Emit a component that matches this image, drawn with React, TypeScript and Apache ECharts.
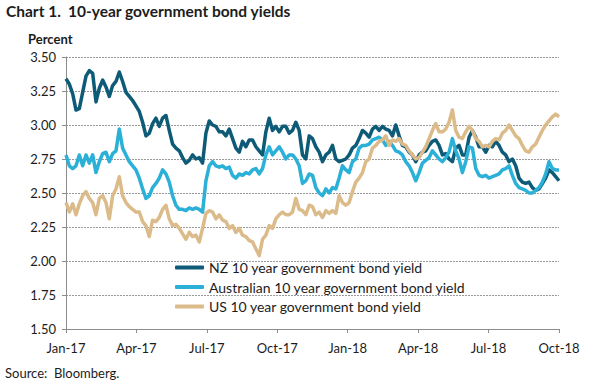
import React, { useEffect, useRef } from "react";
import * as echarts from "echarts";

// x positions: sample index * STEP months from Jan-17 (approx. every 4.3 days)
const STEP_MONTHS = 21 / 148;
const xTickLabels = ["Jan-17", "Apr-17", "Jul-17", "Oct-17", "Jan-18", "Apr-18", "Jul-18", "Oct-18"];
const seriesNames = [
  "NZ 10 year government bond yield",
  "Australian 10 year government bond yield",
  "US 10 year government bond yield",
];

const nzYield = [
  3.34, 3.30, 3.23, 3.11, 3.12, 3.24, 3.36, 3.40, 3.38, 3.17,
  3.27, 3.33, 3.28, 3.21, 3.29, 3.32, 3.39, 3.32, 3.24, 3.21,
  3.18, 3.14, 3.10, 3.02, 2.92, 2.94, 3.01, 3.05, 2.99, 3.05,
  3.07, 2.96, 2.86, 2.83, 2.81, 2.76, 2.72, 2.74, 2.78, 2.75,
  2.76, 2.72, 2.94, 3.03, 3.00, 2.99, 2.95, 2.95, 2.92, 2.97,
  2.90, 2.83, 2.80, 2.88, 2.84, 2.89, 2.89, 2.84, 2.81, 2.78,
  2.95, 3.05, 2.96, 2.99, 2.95, 2.99, 2.99, 2.94, 2.96, 3.02,
  2.96, 2.78, 2.75, 2.92,
  2.90, 2.84, 2.80, 2.73, 2.78, 2.80, 2.85, 2.75, 2.73, 2.74,
  2.75, 2.78, 2.83, 2.85, 2.90, 2.96, 2.94, 2.91, 2.97, 2.99,
  2.96, 2.99, 2.97, 2.96, 2.92, 3.00, 2.92, 2.85, 2.84, 2.80,
  2.78, 2.73, 2.78, 2.80, 2.81, 2.85, 2.88, 2.89, 2.85, 2.78,
  2.79, 2.75, 2.73, 2.83, 2.85, 2.78, 2.78, 2.91, 2.96, 2.91,
  2.84, 2.84, 2.80, 2.85, 2.84, 2.88, 2.85, 2.80, 2.78, 2.73,
  2.75, 2.70, 2.61, 2.58, 2.57, 2.58, 2.54, 2.52, 2.53, 2.57,
  2.61, 2.67, 2.65, 2.62, 2.59,
];

const auYield = [
  2.78, 2.70, 2.68, 2.70, 2.78, 2.70, 2.78, 2.72, 2.78, 2.65,
  2.73, 2.79, 2.80, 2.73, 2.79, 2.81, 2.97, 2.83, 2.78, 2.73,
  2.70, 2.67, 2.61, 2.53, 2.46, 2.48, 2.54, 2.57, 2.61, 2.67,
  2.64, 2.58, 2.48, 2.41, 2.38, 2.38, 2.37, 2.39, 2.38, 2.39,
  2.38, 2.36, 2.59, 2.70, 2.73, 2.70, 2.69, 2.70, 2.68, 2.69,
  2.63, 2.61, 2.64, 2.63, 2.65, 2.64, 2.67, 2.68, 2.64, 2.68,
  2.78, 2.84, 2.78, 2.81, 2.84, 2.80, 2.75, 2.78, 2.78, 2.75,
  2.70, 2.57, 2.59, 2.64,
  2.63, 2.54, 2.50, 2.48, 2.53, 2.50, 2.54, 2.53, 2.61, 2.70,
  2.67, 2.65, 2.73, 2.75, 2.83, 2.85, 2.85, 2.86, 2.89, 2.90,
  2.91, 2.89, 2.85, 2.88, 2.85, 2.81, 2.80, 2.78, 2.73, 2.70,
  2.65, 2.59, 2.65, 2.72, 2.74, 2.76, 2.81, 2.78, 2.75, 2.73,
  2.76, 2.80, 2.90, 2.81, 2.75, 2.65, 2.73, 2.84, 2.83, 2.68,
  2.63, 2.62, 2.63, 2.61, 2.62, 2.63, 2.64, 2.67, 2.68, 2.70,
  2.63, 2.57, 2.54, 2.53, 2.52, 2.50, 2.50, 2.52, 2.54, 2.58,
  2.64, 2.73, 2.68, 2.67, 2.67,
];

const usYield = [
  2.43, 2.36, 2.42, 2.34, 2.42, 2.48, 2.51, 2.46, 2.43, 2.34,
  2.46, 2.48, 2.43, 2.31, 2.48, 2.53, 2.62, 2.48, 2.43, 2.40,
  2.38, 2.36, 2.36, 2.29, 2.26, 2.18, 2.30, 2.29, 2.32, 2.38,
  2.41, 2.31, 2.26, 2.27, 2.24, 2.20, 2.16, 2.21, 2.18, 2.19,
  2.14, 2.24, 2.35, 2.37, 2.36, 2.31, 2.34, 2.30, 2.29, 2.24,
  2.26, 2.21, 2.24, 2.19, 2.18, 2.15, 2.14, 2.09, 2.04, 2.16,
  2.19, 2.26, 2.24, 2.31, 2.34, 2.36, 2.34, 2.34, 2.36, 2.46,
  2.38, 2.37, 2.34, 2.41,
  2.40, 2.34, 2.36, 2.32, 2.37, 2.35, 2.37, 2.35, 2.48, 2.43,
  2.41, 2.43, 2.51, 2.58, 2.61, 2.65, 2.73, 2.75, 2.83, 2.85,
  2.88, 2.89, 2.92, 2.85, 2.89, 2.88, 2.90, 2.86, 2.85, 2.81,
  2.78, 2.75, 2.76, 2.80, 2.84, 2.90, 2.96, 3.01, 2.95, 2.95,
  2.97, 3.02, 3.11, 2.96, 2.91, 2.90, 2.95, 2.99, 2.96, 2.90,
  2.88, 2.84, 2.85, 2.84, 2.88, 2.90, 2.89, 2.94, 2.96, 3.00,
  2.96, 2.92, 2.90, 2.85, 2.81, 2.80, 2.84, 2.86, 2.91, 2.96,
  3.00, 3.03, 3.06, 3.08, 3.06,
];

const colors = ["#0e5b78", "#2bb0d8", "#dcbb8a"];
const FONT = "Lato, 'Open Sans', sans-serif";
const TEXT = "#1c1c1c";

export default function App() {
  const ref = useRef<HTMLDivElement>(null);
  useEffect(() => {
    if (!ref.current) return;
    const chart = echarts.init(ref.current, undefined, { renderer: "svg" });
    const toData = (vals: number[]) => vals.map((v, i) => [i * STEP_MONTHS, v]);
    const allVals = [nzYield, auYield, usYield];
    chart.setOption({
      animation: false,
      backgroundColor: "#ffffff",
      textStyle: { fontFamily: FONT },
      grid: { left: 66, right: 41, top: 57, bottom: 58, containLabel: false },
      graphic: [
        { type: "text", left: 6, top: 3, style: { text: "Chart 1.", font: `bold 15.5px ${FONT}`, fill: TEXT } },
        { type: "text", left: 68, top: 3, style: { text: "10-year government bond yields", font: `bold 15.5px ${FONT}`, fill: TEXT } },
        { type: "text", left: 28, top: 32, style: { text: "Percent", font: `bold 13px ${FONT}`, fill: TEXT } },
        { type: "text", left: 5, top: 366, style: { text: "Source:  Bloomberg.", font: `13px ${FONT}`, fill: TEXT } },
      ],
      legend: {
        orient: "vertical",
        left: 175,
        top: 260,
        padding: 0,
        itemWidth: 29,
        itemHeight: 4,
        itemGap: 4.5,
        icon: "roundRect",
        textStyle: { fontFamily: FONT, fontSize: 14, color: TEXT, lineHeight: 15 },
        data: seriesNames,
      },
      xAxis: {
        type: "value",
        min: 0,
        max: 21,
        interval: 3,
        axisLine: { show: true, lineStyle: { color: "#8c8c8c", width: 1 } },
        axisTick: { show: true, length: 4, lineStyle: { color: "#8c8c8c" } },
        splitLine: { show: false },
        axisLabel: {
          margin: 12,
          fontSize: 13,
          color: TEXT,
          fontFamily: FONT,
          formatter: (v: number) => xTickLabels[Math.round(v / 3)] ?? "",
        },
      },
      yAxis: {
        type: "value",
        min: 1.5,
        max: 3.5,
        interval: 0.25,
        axisLine: { show: true, onZero: false, lineStyle: { color: "#8c8c8c", width: 1 } },
        axisTick: { show: true, length: 4, lineStyle: { color: "#8c8c8c" } },
        splitLine: { show: true, lineStyle: { color: "#9a9a9a", type: [2, 1], width: 1 } },
        axisLabel: {
          margin: 10,
          fontSize: 13,
          color: TEXT,
          fontFamily: FONT,
          formatter: (v: number) => v.toFixed(2),
        },
      },
      series: seriesNames.map((name, k) => ({
        name,
        type: "line",
        data: toData(allVals[k]),
        showSymbol: false,
        symbol: "none",
        smooth: false,
        lineStyle: { color: colors[k], width: 3.5, join: "round" },
        itemStyle: { color: colors[k] },
        z: 2 + k,
      })),
    });
    return () => chart.dispose();
  }, []);
  return <div ref={ref} style={{ width: 600, height: 387, position: "absolute", left: 0, top: 0 }} />;
}
